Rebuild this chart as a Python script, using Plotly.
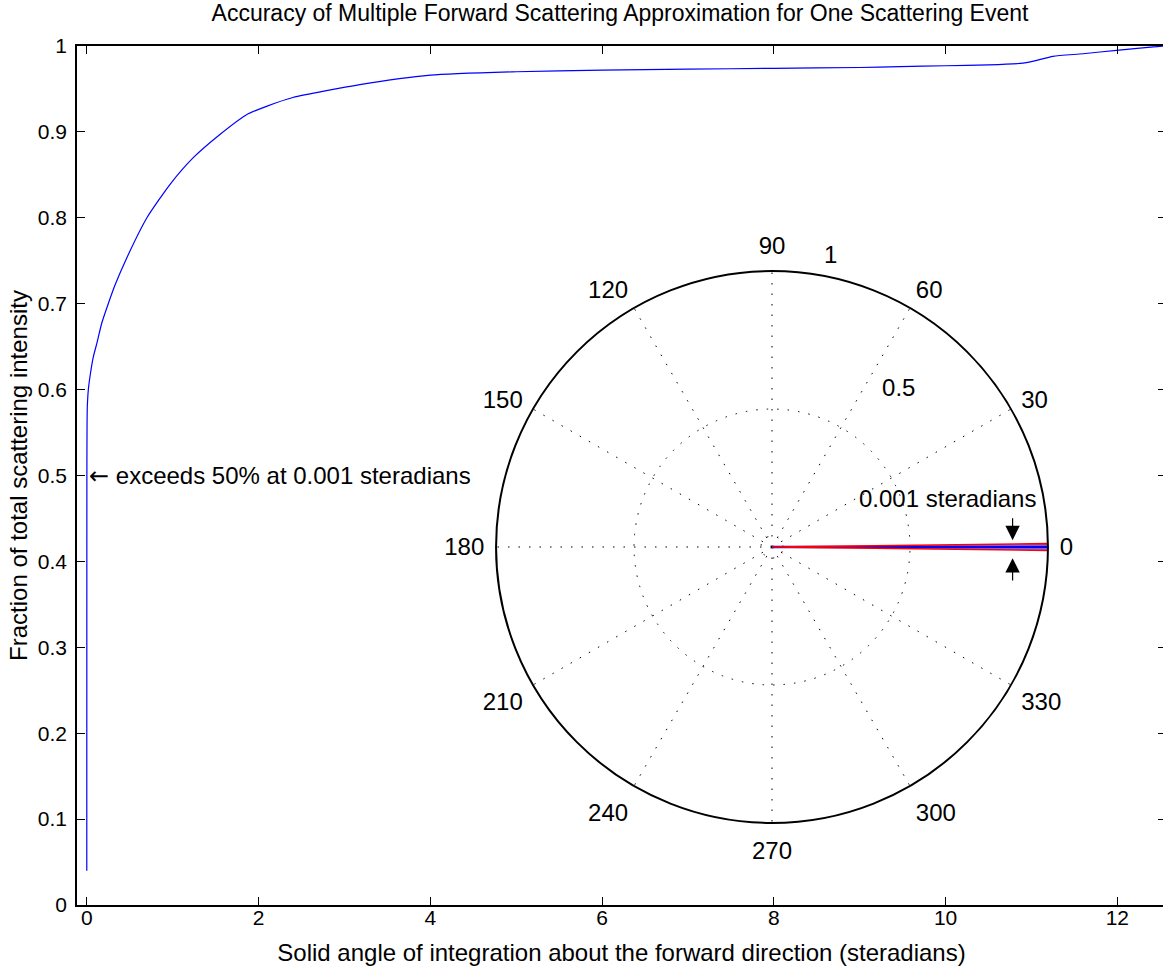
import math
import plotly.graph_objects as go

# ---- data ----
solid_angle = [0, 0.0005, 0.001, 0.003, 0.006, 0.018, 0.04, 0.076, 0.12, 0.173,
               0.25, 0.33, 0.464, 0.70, 0.97, 1.24, 1.55, 1.86, 2.1, 2.40,
               3.18, 4.0, 5.0, 6.0, 7.0, 8.0, 9.0, 9.47, 10.0, 10.5,
               10.9, 11.05, 11.25, 11.6, 11.99, 12.42, 12.566]
fraction = [0.04, 0.30, 0.50, 0.56, 0.58, 0.60, 0.617, 0.638, 0.655, 0.677,
            0.700, 0.722, 0.753, 0.800, 0.839, 0.870, 0.897, 0.920, 0.930, 0.940,
            0.955, 0.966, 0.970, 0.972, 0.973, 0.974, 0.975, 0.976, 0.977, 0.978,
            0.980, 0.983, 0.988, 0.991, 0.995, 0.999, 1.0]

x_ticks = [0, 2, 4, 6, 8, 10, 12]
y_ticks = [0, 0.1, 0.2, 0.3, 0.4, 0.5, 0.6, 0.7, 0.8, 0.9, 1]
y_tick_labels = ["0", "0.1", "0.2", "0.3", "0.4", "0.5", "0.6", "0.7", "0.8", "0.9", "1"]

# polar inset: wedge of 0.001 steradians about the forward direction
wedge_half_angle = 0.7          # degrees
wedge_r = [0, 1, 1, 0]
wedge_theta = [0, wedge_half_angle, -wedge_half_angle, 0]
forward_r = [0, 1]
forward_theta = [0, 0]
angle_ticks = list(range(0, 360, 30))
angle_labels = [str(a) for a in angle_ticks]
ring_values = [0.04, 0.5]
inner_label = ["0.5"]
inner_label_r = [0.73]
inner_label_theta = [51]

FONT = "Liberation Sans, Arial, Helvetica, DejaVu Sans, sans-serif"
TICK_SIZE = 21
TEXT_SIZE = 24
TITLE_SIZE = 23

fig = go.Figure()

fig.add_trace(go.Scatter(x=solid_angle, y=fraction, mode="lines",
                         line=dict(color="#0000ff", width=1.2, shape="spline", smoothing=0.6),
                         showlegend=False, hoverinfo="skip"))

# polar wedge
fig.add_trace(go.Scatterpolar(r=wedge_r, theta=wedge_theta, mode="lines",
                              fill="toself", fillcolor="rgba(40,40,255,0.55)",
                              line=dict(color="rgba(0,0,0,0)", width=0),
                              showlegend=False, hoverinfo="skip"))
fig.add_trace(go.Scatterpolar(r=forward_r, theta=forward_theta, mode="lines",
                              line=dict(color="#0000ff", width=2.5),
                              showlegend=False, hoverinfo="skip"))
fig.add_trace(go.Scatterpolar(r=wedge_r, theta=wedge_theta, mode="lines",
                              line=dict(color="#ff0000", width=1.6),
                              showlegend=False, hoverinfo="skip"))
fig.add_trace(go.Scatterpolar(r=inner_label_r, theta=inner_label_theta, mode="text",
                              text=inner_label, cliponaxis=False,
                              textfont=dict(family=FONT, size=TEXT_SIZE, color="black"),
                              showlegend=False, hoverinfo="skip"))

axis_common = dict(showline=True, linecolor="black", linewidth=1.5, mirror="allticks",
                   ticks="inside", ticklen=8, tickcolor="black", tickwidth=1,
                   showgrid=False, zeroline=False, automargin=False,
                   tickfont=dict(family=FONT, size=TICK_SIZE, color="black"))

fig.update_layout(
    width=1166, height=973,
    margin=dict(l=77, r=0, t=46, b=68),
    paper_bgcolor="white", plot_bgcolor="white",
    title=dict(text="Accuracy of Multiple Forward Scattering Approximation for One Scattering Event",
               x=620 / 1166, xanchor="center", y=1 - 13 / 973, yanchor="middle",
               font=dict(family=FONT, size=TITLE_SIZE, color="black")),
    xaxis=dict(range=[-0.114, 4 * math.pi], tickvals=x_ticks, ticktext=[str(t) for t in x_ticks],
               ticklabelstandoff=-7,
               title=dict(text="Solid angle of integration about the forward direction (steradians)",
                          font=dict(family=FONT, size=TEXT_SIZE, color="black"), standoff=16),
               **axis_common),
    yaxis=dict(range=[0, 1], tickvals=y_ticks, ticktext=y_tick_labels,
               ticklabelstandoff=4,
               title=dict(text="Fraction of total scattering intensity",
                          font=dict(family=FONT, size=TEXT_SIZE, color="black"), standoff=3),
               **axis_common),
    polar=dict(
        domain=dict(x=[0.3848, 0.8916], y=[0.0955, 0.738]),
        bgcolor="white",
        radialaxis=dict(range=[0, 1], tickvals=ring_values, showticklabels=False,
                        ticks="", showline=False, showgrid=True,
                        gridcolor="black", gridwidth=1.3, griddash="1.5px,9px"),
        angularaxis=dict(rotation=0, direction="counterclockwise",
                         tickvals=angle_ticks, ticktext=angle_labels,
                         showline=True, linecolor="black", linewidth=2,
                         showgrid=True, gridcolor="black", gridwidth=1.3, griddash="1.5px,9px",
                         ticks="outside", ticklen=6, tickcolor="rgba(0,0,0,0)",
                         tickfont=dict(family=FONT, size=TEXT_SIZE, color="black")),
    ),
    annotations=[
        dict(x=0, y=0.5, xref="x", yref="y", xanchor="left", yanchor="middle",
             text="<span style=\"font-family:'DejaVu Sans'\">\u2190</span> exceeds 50% at 0.001 steradians",
             showarrow=False,
             font=dict(family=FONT, size=TEXT_SIZE, color="black")),
        # outer-ring value label of the polar inset
        dict(x=0.6915, y=0.7567, xref="paper", yref="paper", xanchor="center", yanchor="middle",
             text="1", showarrow=False,
             font=dict(family=FONT, size=TEXT_SIZE, color="black")),
        dict(x=10.02, y=0.473, xref="x", yref="y", xanchor="center", yanchor="middle",
             text="0.001 steradians", showarrow=False,
             font=dict(family=FONT, size=TEXT_SIZE, color="black")),
        dict(x=10.78, y=0.4247, ax=10.78, ay=0.452, xref="x", yref="y", axref="x", ayref="y",
             text="", showarrow=True, arrowhead=2, arrowsize=2.4, arrowwidth=1.2,
             arrowcolor="black"),
        dict(x=10.78, y=0.4037, ax=10.78, ay=0.376, xref="x", yref="y", axref="x", ayref="y",
             text="", showarrow=True, arrowhead=2, arrowsize=2.4, arrowwidth=1.2,
             arrowcolor="black"),
    ],
)

# remove the browser's default 8 px page margin so the figure sits at the window origin
fig.write_html("out.html", config={"displayModeBar": False},
               post_script="document.body.style.margin='0';")
